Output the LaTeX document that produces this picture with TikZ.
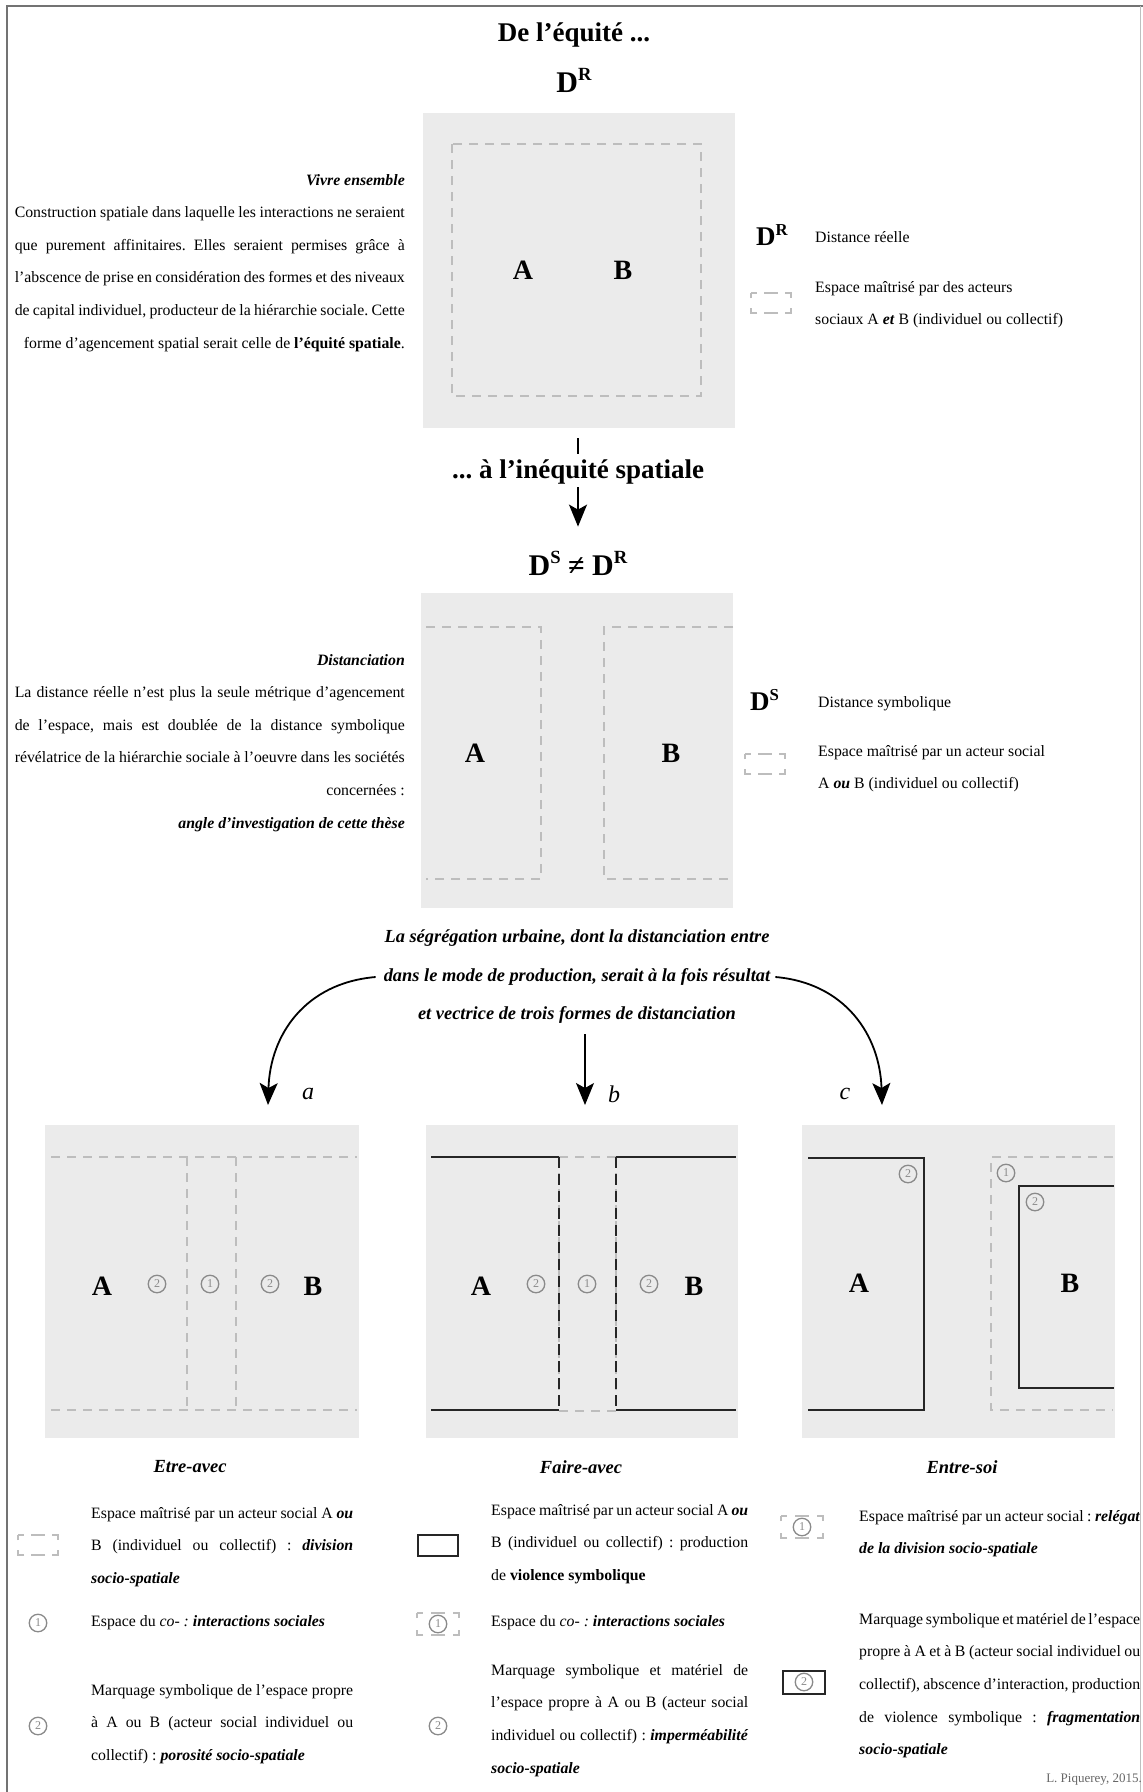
\documentclass[tikz,border=0pt]{standalone}
\usepackage{fontspec}
\setmainfont{Liberation Serif}
\usetikzlibrary{arrows.meta}
\definecolor{boxgray}{HTML}{EBEBEB}
\definecolor{dashgray}{HTML}{BDBDBD}
\definecolor{numgray}{HTML}{8A8A8A}
\newcommand\jl[2]{\makebox[#1][s]{#2}}
\newcommand\supr[1]{\raisebox{0.40em}{\scalebox{0.62}{#1}}}
\newcommand\bi[1]{\textbf{\textit{#1}}}
\frenchspacing
\begin{document}
\begin{tikzpicture}[x=1pt,y=-1pt,
  gbox/.style={fill=boxgray, draw=none, inner sep=0pt},
  dsh/.style={draw=dashgray, line width=1.3pt, dash pattern=on 9pt off 7pt},
  blk/.style={draw=black!85, line width=2.2pt},
  blkdash/.style={draw=black!85, line width=2.2pt, dash pattern=on 11pt off 6pt},
  AB/.style={font=\fontsize{28}{28}\selectfont\bfseries, inner sep=0pt},
  cn/.style={circle, draw=numgray, line width=1.3pt, text=numgray, inner sep=0pt, minimum size=17.5pt, font=\fontsize{12}{12}\selectfont},
  body/.style={font=\fontsize{15.8}{32.6}\selectfont, inner sep=0pt},
  hd/.style={font=\fontsize{18.4}{38.5}\selectfont\bfseries\itshape, inner sep=0pt},
  captxt/.style={font=\fontsize{18.5}{18.5}\selectfont\bfseries\itshape, inner sep=0pt},
  lab/.style={font=\fontsize{24}{24}\selectfont\itshape, inner sep=0pt},
  title/.style={font=\fontsize{27}{27}\selectfont\bfseries, inner sep=0pt},
  bigD/.style={font=\fontsize{30}{30}\selectfont\bfseries, inner sep=0pt},
  legD/.style={font=\fontsize{27}{27}\selectfont\bfseries, inner sep=0pt},
  iconA/.style={draw=dashgray, line width=1.3pt, dash pattern=on 11pt off 7pt on 14pt off 7pt on 11pt off 10pt, dash phase=5pt},
  iconB/.style={draw=dashgray, line width=1.3pt, dash pattern=on 11pt off 8pt on 14pt off 8pt on 11pt off 12pt, dash phase=5pt},
  sicon/.style={draw=black!85, line width=2pt, minimum width=40pt, minimum height=21pt, inner sep=0pt},
  arr/.style={line width=1.8pt, -{Stealth[length=22pt,width=18pt,inset=5pt]}}
]
\useasboundingbox (0,0) rectangle (1143,1792);
\fill[white] (0,0) rectangle (1143,1792);
% frame
\draw[draw=black!55, line width=1.5pt] (7,1792) -- (7,6) -- (1143,6);
\draw[draw=black!25, line width=1pt] (1140,6) -- (1140,1792);

% ---------- top part ----------
\node[title] (t1) at (574,35) {De l’équité ...};
\node[bigD] (dr) at (574,80) {D\supr{R}};

\node[gbox, minimum width=312pt, minimum height=315pt] (box1) at (579,270.5) {};
\draw[dsh] (452,144) rectangle (701,396);
\node[AB] (a1) at (523,270) {A};
\node[AB] (b1) at (623,270) {B};

\node[body, align=right, anchor=north east] (p1) at (405,174) {%
\bi{Vivre ensemble}\\
\jl{390pt}{Construction spatiale dans laquelle les interactions ne seraient}\\
\jl{390pt}{que purement affinitaires. Elles seraient permises grâce à}\\
\jl{390pt}{l’abscence de prise en considération des formes et des niveaux}\\
\jl{390pt}{de capital individuel, producteur de la hiérarchie sociale. Cette}\\
forme d’agencement spatial serait celle de \textbf{l’équité spatiale}.};

\node[legD, anchor=west] (ldr) at (756,235) {D\supr{R}};
\node[body, anchor=west] (ldrt) at (815,237) {Distance réelle};
\draw[iconA] (751,293) -- (791,293) -- (791,313) -- (751,313) -- cycle;
\node[body, align=left, anchor=north west] (l1) at (815,281) {%
Espace maîtrisé par des acteurs\\
sociaux A \bi{et} B (individuel ou collectif)};

% ---------- transition ----------
\node[title] (ineq) at (578,472) {... à l’inéquité spatiale};
\draw[line width=1.6pt, shorten <=10pt, shorten >=6pt] (box1.south -| ineq.north) -- (ineq.north);
\node[bigD] (ds) at (578,563) {D\supr{S} ≠ D\supr{R}};
\draw[arr, shorten <=3pt, shorten >=24pt] (ineq.south) -- (ds.north);

% ---------- box 2 ----------
\node[gbox, minimum width=312pt, minimum height=315pt] (box2) at (577,750.5) {};
\draw[dsh] (426,627) -- (541,627) -- (541,879) -- (426,879);
\draw[dsh] (733,627) -- (604,627) -- (604,879) -- (733,879);
\node[AB] (a2) at (475,753) {A};
\node[AB] (b2) at (671,753) {B};

\node[body, align=right, anchor=north east] (p2) at (405,654) {%
\bi{Distanciation}\\
\jl{390pt}{La distance réelle n’est plus la seule métrique d’agencement}\\
\jl{390pt}{de l’espace, mais est doublée de la distance symbolique}\\
\jl{390pt}{révélatrice de la hiérarchie sociale à l’oeuvre dans les sociétés}\\
concernées :\\
\bi{angle d’investigation de cette thèse}};

\node[legD, anchor=west] (lds) at (750,700) {D\supr{S}};
\node[body, anchor=west] (ldst) at (818,704) {Distance symbolique};
\draw[iconA] (745,754) -- (785,754) -- (785,774) -- (745,774) -- cycle;
\node[body, align=left, anchor=north west] (l2) at (818,745) {%
Espace maîtrisé par un acteur social\\
A \bi{ou} B (individuel ou collectif)};

% ---------- heading and three arrows ----------
\node[hd, align=center] (seg) at (577,977) {La ségrégation urbaine, dont la distanciation entre\\
dans le mode de production, serait à la fois résultat\\
et vectrice de trois formes de distanciation};
\coordinate (ta) at (268,1105);
\coordinate (tb) at (585,1105);
\coordinate (tc) at (882,1105);
\draw[arr] ([xshift=-8pt]seg.west) .. controls (305,983) and (270,1035) .. (ta);
\draw[arr] ([xshift=5pt]seg.east) .. controls (845,983) and (880,1035) .. (tc);
\draw[arr, line width=1.2pt, shorten <=10pt] (seg.south -| tb) -- (tb);
\node[lab] (la) at (308,1094) {a};
\node[lab] (lb) at (614,1094) {b};
\node[lab] (lc) at (845,1094) {c};

% ---------- box a ----------
\node[gbox, minimum width=314pt, minimum height=313pt] (boxa) at (202,1281.5) {};
\draw[dsh] (51,1157) -- (357,1157);
\draw[dsh] (51,1410) -- (357,1410);
\draw[dsh] (187,1157) -- (187,1410);
\draw[dsh] (236,1157) -- (236,1410);
\node[AB] (aa) at (102,1286) {A};
\node[AB] (ba) at (313,1286) {B};
\node[cn] (a2l) at (157,1284) {2};
\node[cn] (a1m) at (210,1284) {1};
\node[cn] (a2r) at (270,1284) {2};

% ---------- box b ----------
\node[gbox, minimum width=312pt, minimum height=313pt] (boxb) at (582,1281.5) {};
\draw[dsh] (559,1157) -- (616,1157);
\draw[dsh] (559,1411) -- (616,1411);
\draw[dsh] (559,1157) -- (559,1410);
\draw[dsh] (616,1157) -- (616,1410);
\draw[blk] (431,1157) -- (559,1157);
\draw[blk] (431,1410) -- (559,1410);
\draw[blk] (616,1157) -- (736,1157);
\draw[blk] (616,1410) -- (736,1410);
\draw[blkdash] (559,1157) -- (559,1410);
\draw[blkdash] (616,1157) -- (616,1410);
\node[AB] (ab) at (481,1286) {A};
\node[AB] (bb) at (694,1286) {B};
\node[cn] (b2l) at (536,1284) {2};
\node[cn] (b1m) at (587,1284) {1};
\node[cn] (b2r) at (649,1284) {2};

% ---------- box c ----------
\node[gbox, minimum width=313pt, minimum height=313pt] (boxc) at (958.5,1281.5) {};
\draw[dsh] (1113,1157) -- (991,1157) -- (991,1410) -- (1113,1410);
\draw[blk] (808,1158) -- (924,1158) -- (924,1410) -- (808,1410);
\draw[blk] (1114,1186) -- (1019,1186) -- (1019,1388) -- (1114,1388);
\node[AB] (ac) at (859,1283) {A};
\node[AB] (bc) at (1070,1283) {B};
\node[cn] (c2a) at (908,1174) {2};
\node[cn] (c1) at (1006,1173) {1};
\node[cn] (c2b) at (1035,1202) {2};

% ---------- captions ----------
\node[captxt] (capa) at (190,1467) {Etre-avec};
\node[captxt] (capb) at (581,1467) {Faire-avec};
\node[captxt] (capc) at (962,1467) {Entre-soi};

% ---------- legend a ----------
\draw[iconA] (18,1535) -- (58,1535) -- (58,1555) -- (18,1555) -- cycle;
\node[body, align=left, anchor=north west] (lta1) at (91,1507) {%
\jl{262pt}{Espace maîtrisé par un acteur social A \bi{ou}}\\
\jl{262pt}{B (individuel ou collectif) : \bi{division}}\\
\bi{socio-spatiale}};
\node[cn] (la2) at (38,1623) {1};
\node[body, anchor=west] (lta2) at (91,1623) {Espace du \textit{co- :} \bi{interactions sociales}};
\node[cn] (la3) at (38,1726) {2};
\node[body, align=left, anchor=north west] (lta3) at (91,1684) {%
\jl{262pt}{Marquage symbolique de l’espace propre}\\
\jl{262pt}{à A ou B (acteur social individuel ou}\\
collectif) : \bi{porosité socio-spatiale}};

% ---------- legend b ----------
\node[sicon] (lb1) at (438,1545) {};
\node[body, align=left, anchor=north west] (ltb1) at (491,1504) {%
\jl{257pt}{Espace maîtrisé par un acteur social A \bi{ou}}\\
\jl{257pt}{B (individuel ou collectif) : production}\\
de \textbf{violence symbolique}};
\draw[iconB] (417,1613) -- (459,1613) -- (459,1635) -- (417,1635) -- cycle;
\node[cn] (lb2n) at (438,1624) {1};
\node[body, anchor=west] (ltb2) at (491,1623) {Espace du \textit{co- :} \bi{interactions sociales}};
\node[cn] (lb3) at (438,1726) {2};
\node[body, align=left, anchor=north west] (ltb3) at (491,1664) {%
\jl{257pt}{Marquage symbolique et matériel de}\\
\jl{257pt}{l’espace propre à A ou B (acteur social}\\
\jl{257pt}{individuel ou collectif) : \bi{imperméabilité}}\\
\bi{socio-spatiale}};

% ---------- legend c ----------
\draw[iconB] (781,1516) -- (823,1516) -- (823,1538) -- (781,1538) -- cycle;
\node[cn] (lc1n) at (802,1527) {1};
\node[body, align=left, anchor=north west] (ltc1) at (859,1510) {%
\jl{281pt}{Espace maîtrisé par un acteur social : \bi{relégat}}\\
\bi{de la division socio-spatiale}};
\node[sicon, minimum width=42pt, minimum height=23pt] (lc2) at (804,1682) {};
\node[cn] (lc2n) at (lc2) {2};
\node[body, align=left, anchor=north west] (ltc2) at (859,1613) {%
\jl{281pt}{Marquage symbolique et matériel de l’espace}\\
\jl{281pt}{propre à A et à B (acteur social individuel ou}\\
\jl{281pt}{collectif), abscence d’interaction, production}\\
\jl{281pt}{de violence symbolique : \bi{fragmentation}}\\
\bi{socio-spatiale}};

\node[body, anchor=east, text=black!60, font=\fontsize{13}{13}\selectfont] (sig) at (1142,1780) {L. Piquerey, 2015.};
\end{tikzpicture}
\end{document}
